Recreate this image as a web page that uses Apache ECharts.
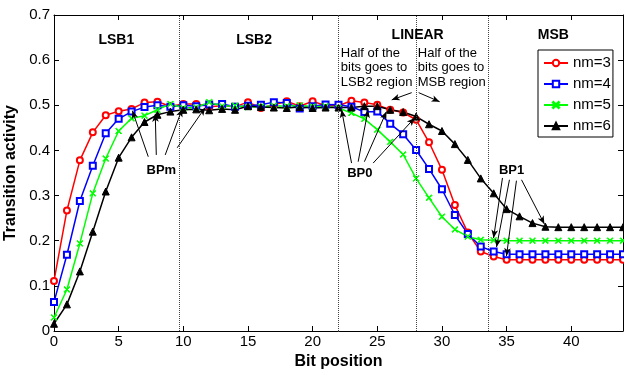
<!DOCTYPE html>
<html>
<head>
<meta charset="utf-8">
<script src="https://cdn.jsdelivr.net/npm/echarts@6/dist/echarts.min.js"></script>
<style>
  html, body { margin: 0; padding: 0; background: #fff; }
  #chart { width: 624px; height: 370px; }
</style>
</head>
<body>
<div id="chart"></div>
<script>
// Bit positions along the word
const bitPositions = [0,1,2,3,4,5,6,7,8,9,10,11,12,13,14,15,16,17,18,19,20,21,22,23,24,25,26,27,28,29,30,31,32,33,34,35,36,37,38,39,40,41,42,43,44];

// Transition activity per bit, one list per nm setting
const nm3 = [0.111,0.267,0.378,0.440,0.478,0.487,0.492,0.506,0.508,0.498,0.503,0.503,0.497,0.499,0.497,0.507,0.494,0.501,0.509,0.498,0.509,0.499,0.499,0.510,0.506,0.501,0.490,0.484,0.468,0.418,0.357,0.279,0.218,0.176,0.165,0.158,0.158,0.158,0.158,0.158,0.158,0.158,0.158,0.158,0.158];
const nm4 = [0.064,0.169,0.288,0.366,0.438,0.470,0.486,0.496,0.500,0.497,0.500,0.498,0.502,0.503,0.497,0.499,0.501,0.507,0.505,0.493,0.498,0.502,0.501,0.497,0.485,0.486,0.459,0.436,0.401,0.359,0.314,0.257,0.215,0.187,0.176,0.170,0.170,0.170,0.170,0.170,0.170,0.170,0.170,0.170,0.170];
const nm5 = [0.030,0.092,0.194,0.305,0.382,0.443,0.471,0.477,0.490,0.503,0.494,0.495,0.507,0.498,0.499,0.496,0.497,0.499,0.498,0.500,0.497,0.498,0.494,0.483,0.470,0.446,0.419,0.391,0.338,0.295,0.253,0.225,0.209,0.202,0.201,0.200,0.200,0.200,0.200,0.200,0.200,0.200,0.200,0.200,0.200];
const nm6 = [0.016,0.059,0.132,0.220,0.309,0.384,0.429,0.463,0.479,0.486,0.490,0.491,0.489,0.492,0.490,0.498,0.496,0.495,0.494,0.496,0.494,0.495,0.495,0.495,0.498,0.498,0.490,0.485,0.475,0.458,0.443,0.414,0.379,0.338,0.305,0.270,0.254,0.239,0.231,0.230,0.230,0.230,0.230,0.230,0.230];

const seriesNames = ['nm=3', 'nm=4', 'nm=5', 'nm=6'];
const xTicks = [0, 5, 10, 15, 20, 25, 30, 35, 40];
const yTicks = [0, 0.1, 0.2, 0.3, 0.4, 0.5, 0.6, 0.7];

// Region boundaries (bit position) and region names
const regionBounds = [9.7, 22, 28, 33.6];
const regionNames = ['LSB1', 'LSB2', 'LINEAR', 'MSB'];
const regionNameAt = [[4.82, 0.645], [15.47, 0.645], [28.12, 0.656], [38.62, 0.656]];

// Break-point labels and the arrows leading from them
const bpNames = ['BPm', 'BP0', 'BP1'];
const bpNameAt = [[8.3, 0.355], [23.65, 0.348], [35.38, 0.355]];
const bpArrows = [
  [[7.29, 0.386], [6.06, 0.488]],
  [[7.91, 0.390], [7.83, 0.481]],
  [[8.60, 0.390], [9.91, 0.492]],
  [[9.53, 0.406], [11.69, 0.495]],
  [[23.01, 0.372], [22.24, 0.490]],
  [[23.52, 0.375], [24.29, 0.490]],
  [[24.00, 0.375], [25.71, 0.486]],
  [[24.68, 0.372], [27.89, 0.472]],
  [[34.68, 0.339], [33.99, 0.206]],
  [[35.22, 0.335], [34.22, 0.186]],
  [[35.76, 0.333], [34.99, 0.166]],
  [[36.15, 0.335], [37.92, 0.237]]
];

// Notes on the LINEAR region split
const splitNotes = ['Half of the\nbits goes to\nLSB2 region', 'Half of the\nbits goes to\nMSB region'];
const splitNoteAt = [[22.18, 0.632], [28.13, 0.632]];
const splitArrows = [
  [[27.66, 0.528], [26.12, 0.512]],
  [[28.20, 0.528], [29.82, 0.508]]
];

const FONT = '"Liberation Sans", Arial, Helvetica, sans-serif';
const colors = ['#ff0000', '#0000ff', '#00ff00', '#000000'];
const values = [nm3, nm4, nm5, nm6];
const symbols = ['emptyCircle', 'emptyRect',
  'path://M0,1L1,0L5,4L9,0L10,1L6,5L10,9L9,10L5,6L1,10L0,9L4,5Z',
  'triangle'];
const symbolSizes = [6, 6, 6, 7];

const chart = echarts.init(document.getElementById('chart'), null, { renderer: 'canvas' });

const dataSeries = seriesNames.map((name, s) => ({
  name: name,
  type: 'line',
  data: bitPositions.map((b, i) => [b, values[s][i]]),
  symbol: symbols[s],
  symbolSize: symbolSizes[s],
  showAllSymbol: true,
  lineStyle: { color: colors[s], width: 1.5 },
  itemStyle: { color: colors[s], borderColor: colors[s], borderWidth: 1 },
  emphasis: { disabled: true },
  animation: false,
  z: 3
}));

const arrowLines = bpArrows.concat(splitArrows).map(a => [
  { coord: a[0], symbol: 'none' },
  { coord: a[1], symbol: 'arrow' }
]);

// Helper series carrying the region separators and annotation arrows
const guideSeries = {
  name: 'guides',
  type: 'line',
  data: [],
  silent: true,
  animation: false,
  z: 4,
  markLine: {
    silent: true,
    animation: false,
    symbol: ['none', 'none'],
    symbolSize: [5, 8],
    label: { show: false },
    emphasis: { disabled: true },
    data: regionBounds.map(v => ({
      xAxis: v,
      lineStyle: { color: '#444', width: 1, type: [1, 1] }
    })).concat(arrowLines.map(pair => [
      Object.assign({ lineStyle: { color: '#000', width: 1, type: 'solid' } }, pair[0]),
      pair[1]
    ]))
  }
};

const axisCommon = {
  type: 'value',
  axisLine: { show: true, onZero: false, lineStyle: { color: '#000', width: 1 } },
  axisTick: { show: true, inside: true, length: 5, lineStyle: { color: '#000' } },
  splitLine: { show: false }
};

chart.setOption({
  animation: false,
  backgroundColor: '#fff',
  grid: { left: 54, right: 1, top: 15, bottom: 39, containLabel: false, outerBoundsMode: 'none' },
  legend: {
    data: seriesNames,
    orient: 'vertical',
    left: 538,
    top: 50,
    padding: [5, 2, 3, 5],
    itemGap: 5,
    itemWidth: 24,
    itemHeight: 8,
    backgroundColor: '#fff',
    borderColor: '#000',
    borderWidth: 1,
    textStyle: { fontFamily: FONT, fontSize: 15, color: '#000', lineHeight: 16 },
    selectedMode: false
  },
  xAxis: [
    Object.assign({}, axisCommon, {
      position: 'bottom',
      min: 0, max: 44, interval: 5,
      name: 'Bit position',
      nameLocation: 'middle',
      nameGap: 18,
      nameTextStyle: { fontFamily: FONT, fontSize: 16, fontWeight: 'bold', color: '#000' },
      axisLabel: {
        fontFamily: FONT, fontSize: 15, color: '#000', margin: 3,
        showMaxLabel: false,
        formatter: v => (xTicks.indexOf(v) >= 0 ? String(v) : '')
      }
    }),
    Object.assign({}, axisCommon, {
      position: 'top',
      min: 0, max: 44, interval: 5,
      axisLabel: { show: false }
    })
  ],
  yAxis: [
    Object.assign({}, axisCommon, {
      position: 'left',
      min: 0, max: 0.7, interval: 0.1,
      name: 'Transition activity',
      nameLocation: 'middle',
      nameGap: 24,
      nameTextStyle: { fontFamily: FONT, fontSize: 16, fontWeight: 'bold', color: '#000' },
      axisLabel: {
        fontFamily: FONT, fontSize: 15, color: '#000', margin: 4,
        formatter: v => {
          const t = yTicks.find(k => Math.abs(k - v) < 1e-9);
          return t === undefined ? '' : String(t);
        }
      }
    }),
    Object.assign({}, axisCommon, {
      position: 'right',
      min: 0, max: 0.7, interval: 0.1,
      axisLabel: { show: false }
    })
  ],
  series: dataSeries.concat([guideSeries])
});

// Text annotations placed at data coordinates
function toPx(p) { return chart.convertToPixel({ gridIndex: 0 }, p); }
const texts = [];
regionNames.forEach((t, i) => {
  const p = toPx(regionNameAt[i]);
  texts.push({ type: 'text', x: p[0], y: p[1], z: 10, silent: true,
    style: { text: t, fill: '#000', font: 'bold 14px ' + FONT, textAlign: 'center', textVerticalAlign: 'middle' } });
});
bpNames.forEach((t, i) => {
  const p = toPx(bpNameAt[i]);
  texts.push({ type: 'text', x: p[0], y: p[1], z: 10, silent: true,
    style: { text: t, fill: '#000', font: 'bold 13px ' + FONT, textAlign: 'center', textVerticalAlign: 'middle' } });
});
splitNotes.forEach((t, i) => {
  const p = toPx(splitNoteAt[i]);
  texts.push({ type: 'text', x: p[0], y: p[1], z: 10, silent: true,
    style: { text: t, fill: '#000', font: '13px ' + FONT, lineHeight: 14.5, textAlign: 'left', textVerticalAlign: 'top' } });
});
chart.setOption({ graphic: texts });
</script>
</body>
</html>
